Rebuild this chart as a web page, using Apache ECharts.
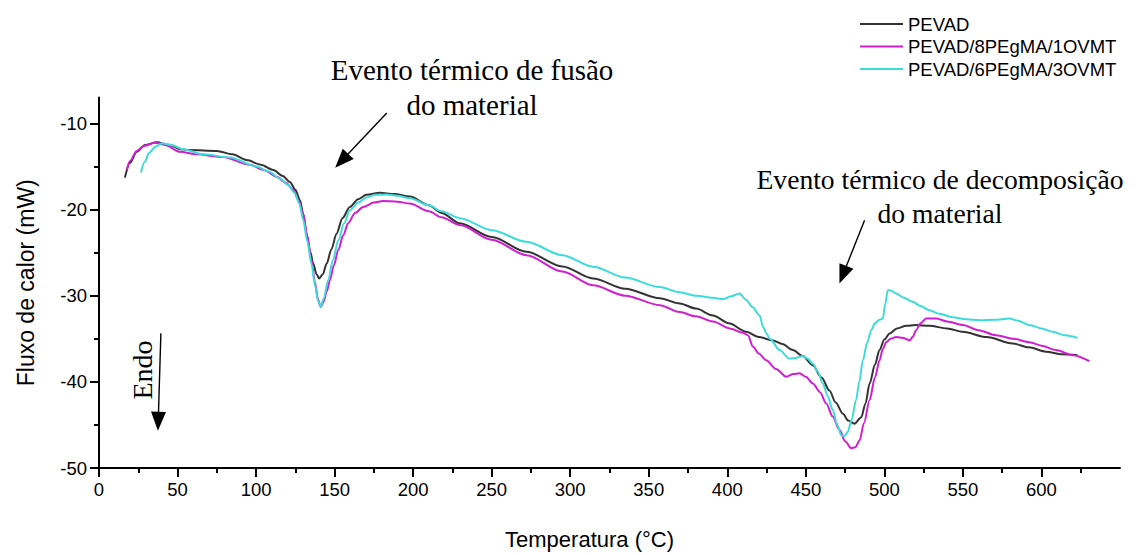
<!DOCTYPE html>
<html>
<head>
<meta charset="utf-8">
<title>Fluxo de calor x Temperatura</title>
<script src="https://cdn.jsdelivr.net/npm/echarts@6/dist/echarts.min.js"></script>
<style>
  html, body { margin: 0; padding: 0; background: #ffffff; }
  #chart { width: 1145px; height: 555px; }
</style>
</head>
<body>
<div id="chart"></div>
<script>
// DSC curves: heat flow (mW) versus temperature (°C)
const seriesNames = ['PEVAD', 'PEVAD/8PEgMA/1OVMT', 'PEVAD/6PEgMA/3OVMT'];

const pevadTemp = [16.5, 19.7, 24, 29.3, 36.7, 45, 52, 58, 75, 85, 94, 103, 111, 117, 121.5, 125, 127.9, 130, 132.1, 134.5, 136.4, 138.5, 140.2, 142.5, 144.9, 148, 151.2, 155, 159.7, 165, 170.3, 178.8, 188, 197.9, 210, 218, 229.7, 250, 272.1, 295, 314.5, 335, 357, 369.7, 380, 390.9, 401, 412, 420, 429, 435, 441.7, 448, 454.5, 460, 465, 469, 473.6, 477, 481, 485.3, 488, 490.6, 494, 496.9, 500, 503.3, 508, 513.9, 520, 528.7, 540, 550, 565, 581.8, 592, 603, 613, 623];
const pevadFlux = [-16.3, -14.6, -13.3, -12.5, -12.2, -12.5, -13.0, -13.1, -13.2, -13.6, -14.26, -14.8, -15.4, -16.1, -16.8, -17.7, -18.9, -20.5, -22.8, -24.9, -26.3, -27.5, -28.0, -27.5, -26.3, -24.6, -22.8, -21.0, -19.7, -18.8, -18.3, -18.06, -18.2, -18.5, -19.5, -20.4, -21.6, -23.2, -24.9, -26.6, -28.0, -29.2, -30.3, -30.9, -31.5, -32.3, -33.2, -34.2, -34.8, -35.2, -35.6, -36.3, -37.0, -38.1, -39.5, -41.0, -42.4, -43.7, -44.5, -44.85, -44.1, -42.5, -40.2, -38.0, -36.3, -35.1, -34.4, -33.8, -33.5, -33.4, -33.5, -33.8, -34.2, -34.8, -35.55, -36.0, -36.5, -36.8, -36.9];

const pe8Temp = [17.6, 20, 24, 29, 35.6, 42, 51.5, 62, 79, 96, 105, 113, 119, 123.6, 127, 130, 132.5, 135.3, 137.5, 139.5, 141.2, 143, 145, 147, 149.5, 152.3, 155.5, 158.6, 163, 168.2, 175, 180.9, 190, 197.9, 210, 218, 229.7, 250, 272.1, 295, 314.5, 335, 357, 369.7, 380, 390.9, 401.5, 410, 413.1, 416.3, 420, 424.8, 431, 437.5, 442, 446, 450, 454.5, 459, 463, 467, 471.5, 475, 478.9, 481.5, 484.2, 487, 490.6, 494, 496.9, 499, 501.1, 504, 507.5, 512, 516, 518, 520.2, 523, 526.6, 533, 540, 550, 560, 571.2, 582, 592.3, 600, 609.3, 620, 630.5];
const pe8Flux = [-15.4, -14.3, -13.2, -12.6, -12.25, -12.5, -13.3, -13.6, -13.9, -14.8, -15.4, -16.2, -16.9, -17.7, -18.9, -20.5, -23.0, -25.9, -28.5, -30.5, -31.3, -30.7, -29.5, -28.2, -26.5, -24.7, -23.0, -21.6, -20.4, -19.7, -19.2, -19.0, -19.1, -19.3, -20.2, -20.9, -21.8, -23.5, -25.3, -27.2, -28.8, -30.0, -31.1, -31.9, -32.4, -33.0, -33.8, -34.3, -34.6, -35.9, -36.7, -37.5, -38.5, -39.4, -39.1, -39.0, -39.4, -40.2, -41.2, -42.5, -44.0, -45.6, -46.9, -47.7, -47.6, -46.8, -44.8, -42.1, -39.5, -37.5, -36.2, -35.4, -35.0, -34.8, -34.9, -35.2, -34.8, -34.0, -33.2, -32.65, -32.65, -33.0, -33.4, -34.0, -34.6, -35.0, -35.4, -35.8, -36.3, -36.9, -37.6];

const pe6Temp = [26.7, 29, 32, 36, 40, 46, 53.6, 66.4, 83.3, 100.3, 108, 115.2, 120, 124.7, 127.5, 130, 132.5, 135.3, 137.5, 139.5, 141, 143, 145.9, 149, 152.3, 156, 159.7, 165, 170.3, 176, 183, 190, 197.9, 210, 218, 229.7, 250, 272.1, 295, 314.5, 335, 357, 369.7, 380, 390.9, 397.2, 402, 407.8, 412, 416, 420.6, 422.7, 425, 427, 433.3, 439.6, 444, 448, 451, 454.5, 457.5, 460.8, 464, 467.2, 470, 472.5, 474.5, 476.7, 479, 482, 484, 486.3, 489, 491.6, 494, 496.9, 499, 500.5, 502.2, 504, 507.5, 512, 518, 523, 528.7, 535, 543.5, 552, 560.5, 570, 579.6, 585, 592.3, 600, 607.2, 615, 623];
const pe6Flux = [-15.7, -14.5, -13.4, -12.7, -12.3, -12.5, -13.0, -13.6, -13.95, -15.0, -15.6, -16.4, -17.1, -18.1, -19.3, -21.2, -23.6, -26.3, -28.8, -30.6, -31.3, -30.4, -28.2, -25.8, -23.6, -21.6, -20.1, -19.2, -18.6, -18.3, -18.25, -18.4, -18.7, -19.5, -20.2, -21.0, -22.4, -23.75, -25.3, -26.65, -27.9, -29.0, -29.6, -30.0, -30.25, -30.4, -30.1, -29.75, -30.5, -31.3, -32.3, -33.6, -34.4, -35.0, -36.3, -37.3, -37.2, -37.0, -37.3, -37.9, -38.8, -40.2, -41.7, -43.3, -45.0, -46.2, -46.3, -45.8, -44.5, -42.1, -40.0, -37.5, -35.5, -34.0, -33.2, -32.8, -32.65, -31.0, -29.36, -29.4, -29.75, -30.2, -30.7, -31.2, -31.7, -32.1, -32.5, -32.75, -32.85, -32.8, -32.65, -32.9, -33.4, -33.8, -34.2, -34.6, -34.9];

// Axis ticks
const xMajorTicks = [0, 50, 100, 150, 200, 250, 300, 350, 400, 450, 500, 550, 600];
const xMinorTicks = [25, 75, 125, 175, 225, 275, 325, 375, 425, 475, 525, 575, 625];
const yMajorTicks = [-50, -40, -30, -20, -10];
const yMinorTicks = [-45, -35, -25, -15];

const seriesColors = ['#333333', '#d21ed2', '#3cdcdc'];

const zip = (xs, ys) => xs.map((x, i) => [x, ys[i]]);

const sans = 'Arial, "Liberation Sans", sans-serif';
const serif = '"Times New Roman", "Liberation Serif", serif';

const chart = echarts.init(document.getElementById('chart'), null, { renderer: 'svg' });

const majorAxisCommon = {
  type: 'value',
  axisLine: { show: true, lineStyle: { color: '#000', width: 2 } },
  axisTick: { show: true, inside: false, length: 9, lineStyle: { color: '#000', width: 2 } },
  splitLine: { show: false },
  axisLabel: { color: '#000', fontFamily: sans, fontSize: 18.5 }
};

const minorAxisCommon = {
  type: 'value',
  axisLine: { show: false },
  axisLabel: { show: false },
  splitLine: { show: false }
};

const lineSeries = (name, data, color) => ({
  name: name,
  type: 'line',
  data: data,
  showSymbol: false,
  smooth: 0.3,
  smoothMonotone: 'x',
  lineStyle: { color: color, width: 2 },
  itemStyle: { color: color },
  emphasis: { disabled: true }
});

const arrowLine = (from, to) => [{ coord: from }, { coord: to }];

const option = {
  animation: false,
  backgroundColor: '#ffffff',
  grid: { left: 99, right: 25, top: 97.5, bottom: 87, containLabel: false, outerBoundsMode: 'none' },
  legend: {
    orient: 'vertical',
    left: 855,
    top: 9,
    itemWidth: 43,
    itemHeight: 2,
    itemGap: 2.5,
    icon: 'rect',
    textStyle: { color: '#000', fontFamily: sans, fontSize: 18.5, lineHeight: 20 },
    data: seriesNames
  },
  xAxis: [
    Object.assign({}, majorAxisCommon, {
      min: 0, max: 650, interval: 50,
      position: 'bottom',
      name: 'Temperatura (°C)',
      nameLocation: 'middle',
      nameGap: 60,
      nameTextStyle: { color: '#000', fontFamily: sans, fontSize: 22, padding: [0, 40, 0, 0] },
      axisTick: Object.assign({}, majorAxisCommon.axisTick, { customValues: xMajorTicks }),
      axisLabel: Object.assign({}, majorAxisCommon.axisLabel, { customValues: xMajorTicks, margin: 12 })
    }),
    Object.assign({}, minorAxisCommon, {
      min: 0, max: 650, interval: 50,
      position: 'bottom',
      axisTick: { show: true, length: 5, customValues: xMinorTicks, lineStyle: { color: '#000', width: 2 } }
    })
  ],
  yAxis: [
    Object.assign({}, majorAxisCommon, {
      min: -50, max: -7, interval: 10,
      position: 'left',
      name: 'Fluxo de calor (mW)',
      nameLocation: 'middle',
      nameGap: 62,
      nameTextStyle: { color: '#000', fontFamily: sans, fontSize: 23 },
      axisTick: Object.assign({}, majorAxisCommon.axisTick, { customValues: yMajorTicks }),
      axisLabel: Object.assign({}, majorAxisCommon.axisLabel, { customValues: yMajorTicks, margin: 12 })
    }),
    Object.assign({}, minorAxisCommon, {
      min: -50, max: -7, interval: 10,
      position: 'left',
      axisTick: { show: true, length: 5, customValues: yMinorTicks, lineStyle: { color: '#000', width: 2 } }
    })
  ],
  series: [
    Object.assign(lineSeries(seriesNames[0], zip(pevadTemp, pevadFlux), seriesColors[0]), {
      markLine: {
        silent: true,
        symbol: ['none', 'triangle'],
        symbolSize: [15, 19],
        label: { show: false },
        lineStyle: { color: '#000', width: 1.4, type: 'solid' },
        itemStyle: { color: '#000' },
        emphasis: { disabled: true },
        data: [
          arrowLine([183.2, -8.8], [154.5, -14.34]),
          arrowLine([487.4, -21.24], [473.6, -27.57]),
          arrowLine([39.4, -34.36], [37.7, -44.58])
        ]
      }
    }),
    lineSeries(seriesNames[1], zip(pe8Temp, pe8Flux), seriesColors[1]),
    lineSeries(seriesNames[2], zip(pe6Temp, pe6Flux), seriesColors[2])
  ],
  graphic: [
    {
      type: 'text',
      x: 472, y: 87.5,
      silent: true,
      style: {
        text: 'Evento térmico de fusão\ndo material',
        fill: '#000',
        font: '29px ' + serif,
        align: 'center',
        verticalAlign: 'middle',
        lineHeight: 35
      }
    },
    {
      type: 'text',
      x: 940, y: 196.5,
      silent: true,
      style: {
        text: 'Evento térmico de decomposição\ndo material',
        fill: '#000',
        font: '27.6px ' + serif,
        align: 'center',
        verticalAlign: 'middle',
        lineHeight: 34
      }
    },
    {
      type: 'text',
      x: 142, y: 370,
      rotation: Math.PI / 2,
      silent: true,
      style: {
        text: 'Endo',
        fill: '#000',
        font: '28px ' + serif,
        align: 'center',
        verticalAlign: 'middle'
      }
    }
  ]
};

chart.setOption(option);
</script>
</body>
</html>
